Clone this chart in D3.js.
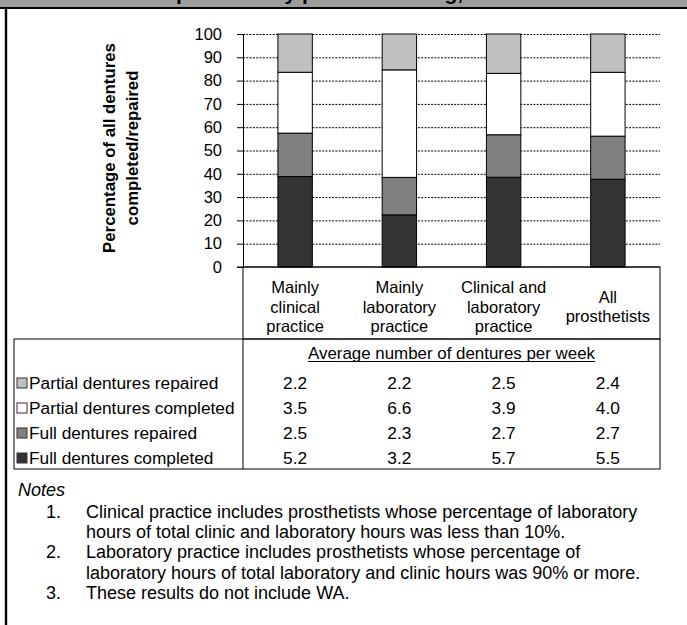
<!DOCTYPE html>
<html>
<head>
<meta charset="utf-8">
<script src="https://cdn.jsdelivr.net/npm/d3@7"></script>
<style>
  html, body { margin: 0; padding: 0; background: #fff; }
  svg text { font-family: "Liberation Sans", Arial, sans-serif; fill: #000; }
</style>
</head>
<body>
<svg id="chart" width="687" height="625"></svg>
<script>
// Practice groups (x categories), one label line per entry
const categories = [
  ["Mainly", "clinical", "practice"],
  ["Mainly", "laboratory", "practice"],
  ["Clinical and", "laboratory", "practice"],
  ["All", "prosthetists"]
];

// Average number of dentures per week, per practice group
const fullCompleted    = [5.2, 3.2, 5.7, 5.5];
const fullRepaired     = [2.5, 2.3, 2.7, 2.7];
const partialCompleted = [3.5, 6.6, 3.9, 4.0];
const partialRepaired  = [2.2, 2.2, 2.5, 2.4];

// Stack order, bottom to top
const seriesKeys   = ["fullCompleted", "fullRepaired", "partialCompleted", "partialRepaired"];
const seriesLabels = ["Full dentures completed", "Full dentures repaired", "Partial dentures completed", "Partial dentures repaired"];
const seriesFills  = ["#333333", "#808080", "#ffffff", "#c0c0c0"];

const yTicks = [0, 10, 20, 30, 40, 50, 60, 70, 80, 90, 100];

const titleText = "Mean number of dentures per week by practice setting, 2003";
const yTitle = ["Percentage of all dentures", "completed/repaired"];
const tableHeader = "Average number of dentures per week";
const notesHeading = "Notes";
const notes = [
  ["1.", ["Clinical practice includes prosthetists whose percentage of laboratory",
          "hours of total clinic and laboratory hours was less than 10%."]],
  ["2.", ["Laboratory practice includes prosthetists whose percentage of",
          "laboratory hours of total laboratory and clinic hours was 90% or more."]],
  ["3.", ["These results do not include WA."]]
];

// ---- build rows for the stack ----
const seriesData = { fullCompleted, fullRepaired, partialCompleted, partialRepaired };
const rows = categories.map((c, i) => {
  const r = { idx: i };
  seriesKeys.forEach(k => r[k] = seriesData[k][i]);
  return r;
});
const stacked = d3.stack().keys(seriesKeys).offset(d3.stackOffsetExpand)(rows);

const svg = d3.select("#chart");
const FONT = 16.5;
const TFONT = 17.3;
const NFONT = 18;
const NLINE = 20.2;

// ---- frame and title band ----
svg.append("rect").attr("x", 0).attr("y", 0).attr("width", 687).attr("height", 7.5).attr("fill", "#9d9d9d");
const clip = svg.append("clipPath").attr("id", "bandClip");
clip.append("rect").attr("x", 0).attr("y", 0).attr("width", 687).attr("height", 7.5);
const title = svg.append("g").attr("clip-path", "url(#bandClip)")
  .append("text")
  .attr("x", 0).attr("y", 0)
  .attr("font-size", 21).attr("font-weight", "bold")
  .text(titleText);
// line the title up so "practice" sits right of the band's centre
const pIdx = titleText.indexOf("practice");
const px = title.node().getStartPositionOfChar(pIdx).x;
title.attr("x", 302 - px);

svg.append("line").attr("x1", 0).attr("x2", 687).attr("y1", 8).attr("y2", 8)
  .attr("stroke", "#000").attr("stroke-width", 2.2);
svg.append("line").attr("x1", 6).attr("x2", 6).attr("y1", 7).attr("y2", 625)
  .attr("stroke", "#000").attr("stroke-width", 2.4);

// ---- scales ----
const plotL = 243, plotR = 660, plotT = 34, plotB = 267;
const x = d3.scaleBand().domain(d3.range(categories.length)).range([plotL, plotR])
  .paddingInner(0.67).paddingOuter(0.335);
const y = d3.scaleLinear().domain([0, 100]).range([plotB, plotT]);

// gridlines
svg.append("g").selectAll("line").data(yTicks.filter(t => t > 0)).join("line")
  .attr("x1", plotL).attr("x2", plotR)
  .attr("y1", d => y(d) + 0.5).attr("y2", d => y(d) + 0.5)
  .attr("stroke", "#000").attr("stroke-width", 1).attr("stroke-dasharray", "2,1.3");

// bars
svg.append("g").selectAll("g").data(stacked).join("g")
  .attr("fill", (d, i) => seriesFills[i])
  .selectAll("rect").data(d => d).join("rect")
  .attr("x", d => x(d.data.idx))
  .attr("width", x.bandwidth())
  .attr("y", d => y(d[1] * 100))
  .attr("height", d => y(d[0] * 100) - y(d[1] * 100))
  .attr("stroke", "#000").attr("stroke-width", 1);

// y axis
const yAxis = svg.append("g").attr("transform", `translate(${plotL},0)`)
  .call(d3.axisLeft(y).tickValues(yTicks).tickSize(6).tickPadding(15).tickSizeOuter(0));
yAxis.select(".domain").attr("stroke", "#000");
yAxis.selectAll(".tick line").attr("stroke", "#000");
yAxis.selectAll(".tick text").attr("font-size", FONT).attr("font-family", "Liberation Sans, Arial, sans-serif").attr("fill", "#000");

// x axis baseline
svg.append("line").attr("x1", plotL - 6).attr("x2", plotR).attr("y1", plotB).attr("y2", plotB)
  .attr("stroke", "#000");

// y title
const yt = svg.append("text").attr("transform", "translate(115,148) rotate(-90)")
  .attr("text-anchor", "middle").attr("font-size", 16.8).attr("font-weight", "bold");
yTitle.forEach((t, i) => yt.append("tspan").attr("x", 0).attr("y", i * 23).text(t));

// ---- category box ----
const boxTop = plotB, boxBot = 339;
svg.append("rect").attr("x", plotL).attr("y", boxTop).attr("width", plotR - plotL).attr("height", boxBot - boxTop)
  .attr("fill", "none").attr("stroke", "#000");
svg.append("g").selectAll("text").data(categories).join("text")
  .attr("text-anchor", "middle").attr("font-size", FONT)
  .each(function (lines, i) {
    const cx = x(i) + x.bandwidth() / 2;
    const lh = 19.5;
    const mid = 306.5;
    const first = mid - (lines.length - 1) * lh / 2;
    d3.select(this).selectAll("tspan").data(lines).join("tspan")
      .attr("x", cx).attr("y", (d, j) => first + j * lh + 6).text(d => d);
  });

// ---- data table ----
const tL = 14, tT = 339, tB = 469;
svg.append("rect").attr("x", tL).attr("y", tT).attr("width", plotR - tL).attr("height", tB - tT)
  .attr("fill", "none").attr("stroke", "#000");
svg.append("line").attr("x1", plotL).attr("x2", plotL).attr("y1", tT).attr("y2", tB).attr("stroke", "#000");

const hdr = svg.append("text").attr("x", (plotL + plotR) / 2).attr("y", 359)
  .attr("text-anchor", "middle").attr("font-size", 16.9).text(tableHeader);
const hw = hdr.node().getComputedTextLength();
svg.append("line").attr("x1", (plotL + plotR) / 2 - hw / 2).attr("x2", (plotL + plotR) / 2 + hw / 2)
  .attr("y1", 361.5).attr("y2", 361.5).attr("stroke", "#000").attr("stroke-width", 1);

// rows listed top to bottom: reverse of stack order
const tableOrder = [3, 2, 1, 0];
const rowY = d3.scalePoint().domain(tableOrder).range([383, 458]);
const rowG = svg.append("g").selectAll("g").data(tableOrder).join("g")
  .attr("transform", k => `translate(0,${rowY(k)})`);
rowG.append("rect").attr("x", 17).attr("y", -5).attr("width", 10).attr("height", 10)
  .attr("fill", k => seriesFills[k]).attr("stroke", "#333").attr("stroke-width", 1);
rowG.append("text").attr("x", 29).attr("y", 6).attr("font-size", TFONT).text(k => seriesLabels[k]);
rowG.selectAll("text.val").data(k => seriesData[seriesKeys[k]]).join("text")
  .attr("class", "val")
  .attr("x", (v, i) => x(i) + x.bandwidth() / 2).attr("y", 6)
  .attr("text-anchor", "middle").attr("font-size", TFONT)
  .text(v => d3.format(".1f")(v));

// ---- notes ----
svg.append("text").attr("x", 18).attr("y", 496).attr("font-size", NFONT)
  .attr("font-style", "italic").text(notesHeading);
let ny = 518;
notes.forEach(([num, lines]) => {
  svg.append("text").attr("x", 46).attr("y", ny).attr("font-size", NFONT).text(num);
  lines.forEach((l, j) => {
    svg.append("text").attr("x", 86).attr("y", ny + j * NLINE).attr("font-size", NFONT).text(l);
  });
  ny += lines.length * NLINE;
});
</script>
</body>
</html>
